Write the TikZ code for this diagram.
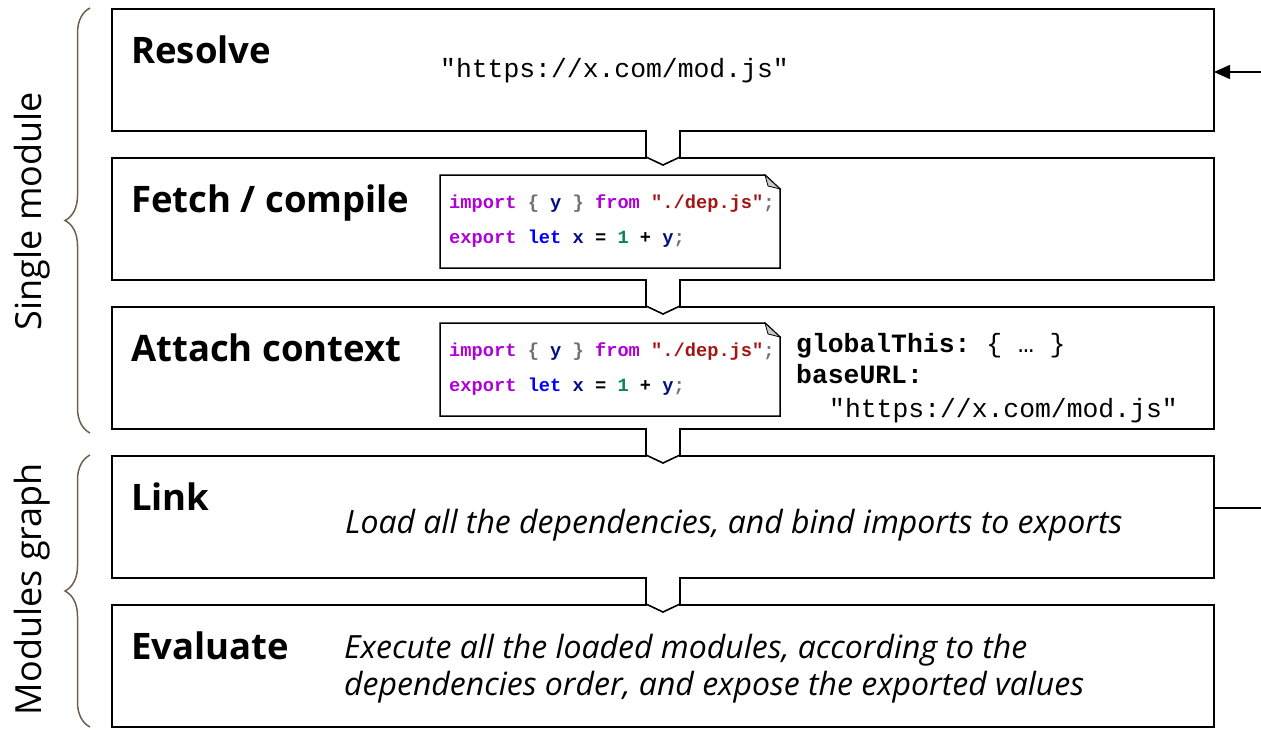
\documentclass[tikz,border=0pt]{standalone}
\usepackage{fontspec}
\setmainfont{Open Sans}
\setmonofont{Liberation Mono}
\usetikzlibrary{decorations.pathreplacing,arrows.meta,calc}

% syntax colours for the code snippets
\definecolor{kwctl}{HTML}{AF00DB}
\definecolor{kwdecl}{HTML}{0000FF}
\definecolor{ident}{HTML}{001080}
\definecolor{strlit}{HTML}{A31515}
\definecolor{numlit}{HTML}{098658}
\definecolor{punct}{HTML}{707070}
\definecolor{bracecol}{HTML}{6E604A}
\definecolor{foldgray}{HTML}{C8C8C8}

\newcommand{\kwc}[1]{\textcolor{kwctl}{#1}}
\newcommand{\kwd}[1]{\textcolor{kwdecl}{#1}}
\newcommand{\idn}[1]{\textcolor{ident}{#1}}
\newcommand{\str}[1]{\textcolor{strlit}{#1}}
\newcommand{\num}[1]{\textcolor{numlit}{#1}}
\newcommand{\pun}[1]{\textcolor{punct}{#1}}

\newcommand{\importline}{\kwc{import} \pun{\{} \idn{y} \pun{\}} \kwc{from} \str{"./dep.js"}\pun{;}}
\newcommand{\exportline}{\kwc{export} \kwd{let} \idn{x} = \num{1} + \idn{y}\pun{;}}

\tikzset{
  stage/.style={draw, line width=1.6pt, rectangle, inner sep=0pt, outer sep=0pt,
    minimum width=1102pt, minimum height=122pt, fill=white},
  stagetitle/.style={anchor=base west, inner sep=0pt, font=\fontsize{36.5}{42}\selectfont\bfseries},
  desc/.style={anchor=base west, inner sep=0pt, font=\fontsize{32}{37}\selectfont\itshape},
  url/.style={anchor=base west, inner sep=0pt, font=\fontsize{26.4}{32}\selectfont\ttfamily},
  codebox/.style={rectangle, inner sep=0pt, outer sep=0pt, minimum width=340pt, minimum height=93pt},
  codetext/.style={anchor=base west, inner sep=0pt, font=\fontsize{18.7}{22}\selectfont\ttfamily\bfseries},
  noteline/.style={line width=1.5pt, line join=miter},
  conn/.style={line width=1.6pt, line join=miter},
  loopline/.style={line width=1.6pt},
  looptip/.style={-{Triangle[length=16pt, width=14pt]}},
  groupbrace/.style={draw=bracecol, line width=1.5pt, decorate,
    decoration={brace, amplitude=25pt}},
  grouplabel/.style={rotate=90, inner sep=0pt, font=\fontsize{36}{40}\selectfont},
}

% connector tab between two consecutive stages
\newcommand{\stagelink}[2]{%
  \fill[white] ($(#1.south)+(-16.2,-2)$) rectangle ($(#2.north)+(16.2,1.5)$);
  \draw[conn] ($(#1.south)+(-17,-0.8)$) -- ($(#2.north)+(-17,-1)$)
    -- ($(#2.north)+(0,7)$) -- ($(#2.north)+(17,-1)$) -- ($(#1.south)+(17,-0.8)$);
}

% code snippet drawn as a note with a folded corner
\newcommand{\notebox}[1]{%
  \draw[noteline, fill=white] (#1.south west) -- (#1.north west)
    -- ($(#1.north east)+(-15,0)$) -- ($(#1.north east)+(0,14)$)
    -- (#1.south east) -- cycle;
  \draw[line width=0.8pt, fill=foldgray] ($(#1.north east)+(-15,0)$)
    -- ($(#1.north east)+(-12,11)$) -- ($(#1.north east)+(0,14)$) -- cycle;
}

\begin{document}
\begin{tikzpicture}[x=1pt, y=-1pt]
\useasboundingbox (0,0) rectangle (1261,729);

% the five stages
\node[stage] (resolve)  at (663,70)  {};
\node[stage] (fetch)    at (663,219) {};
\node[stage] (attach)   at (663,368) {};
\node[stage] (link)     at (663,517) {};
\node[stage] (evaluate) at (663,666) {};

\stagelink{resolve}{fetch}
\stagelink{fetch}{attach}
\stagelink{attach}{link}
\stagelink{link}{evaluate}

% stage titles
\node[stagetitle] (tresolve)  at (131,63)  {Resolve};
\node[stagetitle] (tfetch)    at (131,212) {Fetch / compile};
\node[stagetitle] (tattach)   at (131,361) {Attach context};
\node[stagetitle] (tlink)     at (131,510) {Link};
\node[stagetitle] (tevaluate) at (131,659) {Evaluate};

% resolve
\node[url] (resolveurl) at (440,77) {"https://x.com/mod.js"};

% fetch / compile
\node[codebox] (codefetch) at (610,221.5) {};
\notebox{codefetch}
\node[codetext] (fetchimp) at (449,208) {\importline};
\node[codetext] (fetchexp) at (449,243) {\exportline};

% attach context
\node[codebox] (codeattach) at (610,369.5) {};
\notebox{codeattach}
\node[codetext] (attachimp) at (449,356) {\importline};
\node[codetext] (attachexp) at (449,391) {\exportline};
\node[url] (ctxglobal) at (796,352) {\textbf{globalThis:} \{ … \}};
\node[url] (ctxbase)   at (796,383) {\textbf{baseURL:}};
\node[url] (ctxurl)    at (829,417) {"https://x.com/mod.js"};

% link and evaluate descriptions
\node[desc] (linkdesc)  at (345,533) {Load all the dependencies, and bind imports to exports};
\node[desc] (evaldesc1) at (344,658) {Execute all the loaded modules, according to the};
\node[desc] (evaldesc2) at (344,695) {dependencies order, and expose the exported values};

% loop from link back to resolve
\coordinate (loopin)  at (1261,72);
\coordinate (loopout) at (1261,508);
\draw[loopline, looptip] (loopin) -- (loopin -| resolve.east);
\draw[loopline] (loopout -| link.east) -- (loopout);

% group braces
\coordinate (singletop) at (90,8);
\coordinate (singlebot) at (90,433);
\coordinate (graphtop)  at (90,455);
\coordinate (graphbot)  at (90,727);
\draw[groupbrace] (singlebot) -- (singletop);
\draw[groupbrace] (graphbot) -- (graphtop);
\node[grouplabel] (singlelabel) at (32,211) {Single module};
\node[grouplabel] (graphlabel)  at (32,589) {Modules graph};
\end{tikzpicture}
\end{document}
